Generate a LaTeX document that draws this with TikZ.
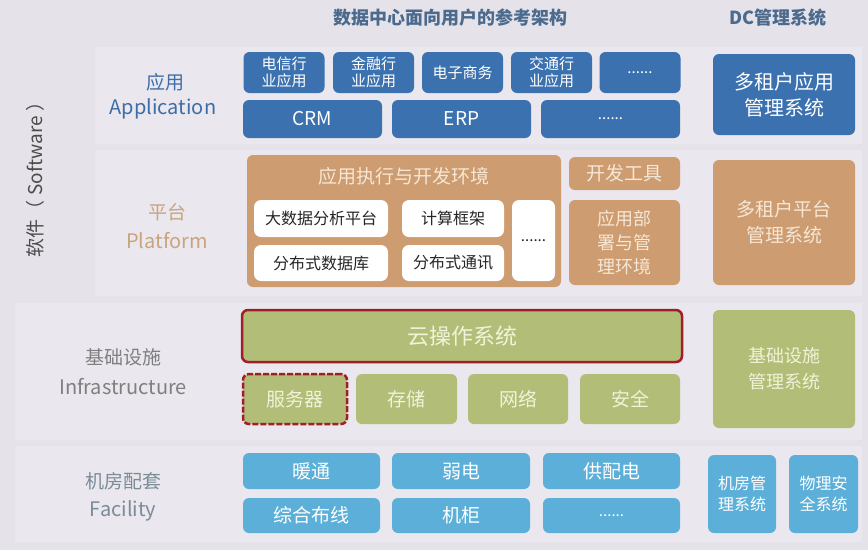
\documentclass[tikz,border=0pt]{standalone}
\usepackage{fontspec}
\setmainfont{Noto Sans CJK SC}
\definecolor{bgcol}{HTML}{E5E3E9}
\definecolor{bandcol}{HTML}{EAE8EE}
\definecolor{appblue}{HTML}{3B71AF}
\definecolor{platorange}{HTML}{CD9C70}
\definecolor{platlight}{HTML}{F6E7D6}
\definecolor{infragreen}{HTML}{B2BE78}
\definecolor{infralight}{HTML}{F2F2D8}
\definecolor{facblue}{HTML}{5BAFD8}
\definecolor{redline}{HTML}{A21D2A}
\definecolor{titlecol}{HTML}{4B6A8E}
\definecolor{applabel}{HTML}{3D6DA6}
\definecolor{platlabel}{HTML}{C9A47C}
\definecolor{graylabel}{HTML}{7F7F7F}
\definecolor{faclabel}{HTML}{7A8C98}
\tikzset{
  box/.style 2 args={rounded corners=6pt, minimum width=#1, minimum height=#2,
    inner sep=0pt, align=center},
  appbox/.style 2 args={box={#1}{#2}, fill=appblue, text=white},
  platbox/.style 2 args={box={#1}{#2}, fill=platorange, text=platlight},
  whitebox/.style 2 args={box={#1}{#2}, fill=white, text=black!85, rounded corners=7pt},
  infrabox/.style 2 args={box={#1}{#2}, fill=infragreen, text=infralight},
  facbox/.style 2 args={box={#1}{#2}, fill=facblue, text=white},
  big/.style={font=\fontsize{19}{22}\selectfont},
  small/.style={font=\fontsize{15}{17}\selectfont},
}
\begin{document}
\begin{tikzpicture}[x=1pt,y=-1pt]
    \fill[bgcol] (0,0) rectangle (868,550);
    \useasboundingbox (0,0) rectangle (868,550);
    % faint bands
    \fill[bandcol] (95,47) rectangle (862,144);
    \fill[bandcol] (95,150) rectangle (862,296);
    \fill[bandcol] (15,303) rectangle (862,440);
    \fill[bandcol] (15,446) rectangle (862,542);
    % titles
    \node[text=titlecol, font=\fontsize{18}{20}\selectfont\bfseries] (title) at (450,18) {数据中心面向用户的参考架构};
    \node[text=titlecol, font=\fontsize{18}{20}\selectfont\bfseries] (dctitle) at (778,18) {DC管理系统};
    \node[text=black!70, rotate=90, font=\fontsize{19}{22}\selectfont] (software) at (35,175) {软件（ Software ）};
    % layer labels
    \node[text=applabel, font=\fontsize{19}{20}\selectfont] (applabel) at (165,82) {应用};
    \node[text=applabel, font=\fontsize{20}{22}\selectfont] (appen) at (163,109) {Application};
    \node[text=platlabel, font=\fontsize{19}{20}\selectfont] (platlabel) at (167,212) {平台};
    \node[text=platlabel, font=\fontsize{20}{22}\selectfont] (platen) at (167,241) {Platform};
    \node[text=graylabel, font=\fontsize{19}{20}\selectfont] (infralabel) at (123,357) {基础设施};
    \node[text=graylabel, font=\fontsize{20}{22}\selectfont] (infraen) at (123,387) {Infrastructure};
    \node[text=faclabel, font=\fontsize{19}{20}\selectfont] (faclabel) at (123,481) {机房配套};
    \node[text=faclabel, font=\fontsize{20}{22}\selectfont] (facen) at (123,511) {Facility};
    % application
    \node[appbox={81pt}{41pt}, small] (telecom) at (284,72.5) {电信行\\业应用};
    \node[appbox={81pt}{41pt}, small] (finance) at (373.5,72.5) {金融行\\业应用};
    \node[appbox={81pt}{41pt}, small] (ebiz) at (462.5,72.5) {电子商务};
    \node[appbox={81pt}{41pt}, small] (traffic) at (551.5,72.5) {交通行\\业应用};
    \node[appbox={81pt}{41pt}, small] (appmore) at (640,72.5) {......};
    \node[appbox={139pt}{38pt}, big] (crm) at (312.5,119) {CRM};
    \node[appbox={139pt}{38pt}, big] (erp) at (461.5,119) {ERP};
    \node[appbox={139pt}{38pt}, small] (appmoreb) at (610.5,119) {......};
    \node[appbox={142pt}{81pt}, font=\fontsize{20}{26}\selectfont] (appmgmt) at (784,94.5) {多租户应用\\管理系统};
    % platform
    \node[platbox={314pt}{132pt}] (runenv) at (404,221) {};
    \node[text=platlight, font=\fontsize{19}{20}\selectfont] (runtitle) at (404,176) {应用执行与开发环境};
    \node[whitebox={134pt}{37pt}, font=\fontsize{16}{17}\selectfont] (bigdata) at (321,218.5) {大数据分析平台};
    \node[whitebox={102pt}{37pt}, font=\fontsize{16}{17}\selectfont] (compute) at (453,218.5) {计算框架};
    \node[whitebox={134pt}{36pt}, font=\fontsize{16}{17}\selectfont] (distdb) at (321,263) {分布式数据库};
    \node[whitebox={102pt}{36pt}, font=\fontsize{16}{17}\selectfont] (distcom) at (453,263) {分布式通讯};
    \node[whitebox={43pt}{81pt}, small] (platmore) at (533.5,240.5) {......};
    \node[platbox={111pt}{33pt}, font=\fontsize{19}{20}\selectfont] (devtool) at (624.5,173.5) {开发工具};
    \node[platbox={111pt}{85pt}, font=\fontsize{18}{24}\selectfont] (deploy) at (624.5,242.5) {应用部\\署与管\\理环境};
    \node[platbox={142pt}{125pt}, font=\fontsize{19}{26}\selectfont] (platmgmt) at (784,222.5) {多租户平台\\管理系统};
    % infrastructure
    \node[infrabox={440pt}{52pt}, draw=redline, line width=2.5pt, font=\fontsize{22}{24}\selectfont] (cloudos) at (462,336) {云操作系统};
    \node[infrabox={104pt}{50pt}, draw=redline, line width=2.5pt, dash pattern=on 6pt off 2pt, big] (server) at (295,399) {服务器};
    \node[infrabox={101pt}{50pt}, big] (storage) at (406.5,399) {存储};
    \node[infrabox={100pt}{50pt}, big] (network) at (518,399) {网络};
    \node[infrabox={100pt}{50pt}, big] (security) at (630,399) {安全};
    \node[infrabox={142pt}{118pt}, font=\fontsize{18}{26}\selectfont] (inframgmt) at (784,369) {基础设施\\管理系统};
    % facility
    \node[facbox={137pt}{36pt}, font=\fontsize{19}{20}\selectfont] (hvac) at (311.5,471) {暖通};
    \node[facbox={138pt}{36pt}, font=\fontsize{19}{20}\selectfont] (lowvolt) at (461,471) {弱电};
    \node[facbox={137pt}{36pt}, font=\fontsize{19}{20}\selectfont] (power) at (611.5,471) {供配电};
    \node[facbox={137pt}{35pt}, font=\fontsize{19}{20}\selectfont] (cabling) at (311.5,515.5) {综合布线};
    \node[facbox={138pt}{35pt}, font=\fontsize{19}{20}\selectfont] (rack) at (461,515.5) {机柜};
    \node[facbox={137pt}{35pt}, small] (facmore) at (611.5,515.5) {......};
    \node[facbox={68pt}{78pt}, font=\fontsize{16}{21}\selectfont] (roommgmt) at (742,494) {机房管\\理系统};
    \node[facbox={69pt}{78pt}, font=\fontsize{16}{21}\selectfont] (physsec) at (823.5,494) {物理安\\全系统};
\end{tikzpicture}
\end{document}
